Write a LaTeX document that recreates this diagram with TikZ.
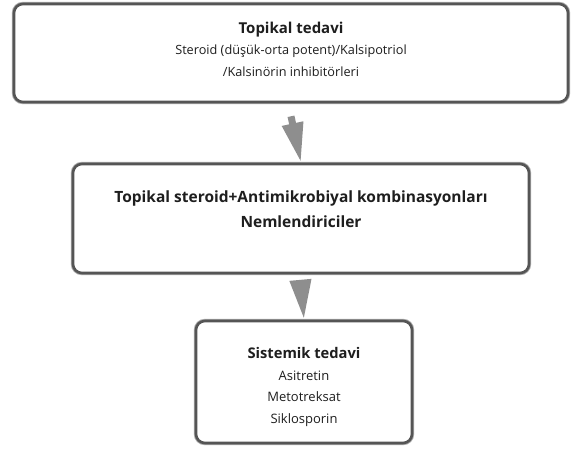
\documentclass[tikz,border=0pt]{standalone}
\usepackage{fontspec}
\setmainfont{Open Sans}
\usetikzlibrary{arrows.meta}
\definecolor{boxline}{HTML}{555555}
\definecolor{boxhalo}{HTML}{A8A8A8}
\definecolor{arrowgray}{HTML}{8E8E8E}
\definecolor{txt}{HTML}{1E1E1E}
\begin{document}
\begin{tikzpicture}[x=1pt,y=-1pt,
  flowbox/.style={draw=boxline, line width=2.6pt, rounded corners=9pt, fill=white,
    inner sep=0pt, anchor=center,
    preaction={draw=boxhalo, line width=4.4pt}},
  flowtext/.style={align=center, inner sep=0pt, anchor=center, text=txt},
  flowarrow/.style={draw=arrowgray, line width=7pt,
    -{Triangle[width=20pt,length=40pt]}}
]
\useasboundingbox[fill=white] (0,0) rectangle (571,457);
\node[flowbox, minimum width=554pt, minimum height=98pt] (top) at (291,53) {};
\node[flowbox, minimum width=456pt, minimum height=109pt] (mid) at (301,218.5) {};
\node[flowbox, minimum width=216pt, minimum height=122pt] (bot) at (304,382) {};
\node[flowtext, font=\fontsize{12.7}{21.5}\selectfont] (toptext) at (291,49)
  {{\fontsize{15}{21.5}\selectfont\bfseries Topikal tedavi}\\Steroid (düşük-orta potent)/Kalsipotriol\\/Kalsinörin inhibitörleri};
\node[flowtext, font=\fontsize{15.5}{25}\selectfont\bfseries] (midtext) at (301,209)
  {Topikal steroid+Antimikrobiyal kombinasyonları\\Nemlendiriciler};
\node[flowtext, font=\fontsize{13}{21.5}\selectfont] (bottext) at (304,387)
  {{\fontsize{14.7}{21.5}\selectfont\bfseries Sistemik tedavi}\\Asitretin\\Metotreksat\\Siklosporin};
\draw[flowarrow] ([yshift=-13pt]top.south) -- (mid.north);
\draw[flowarrow] ([yshift=-12pt]mid.south) -- (bot.north);
\end{tikzpicture}
\end{document}
